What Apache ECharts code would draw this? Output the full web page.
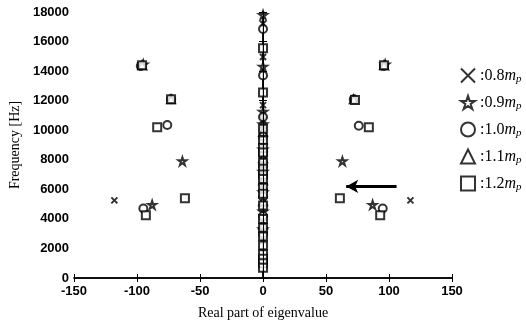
<!DOCTYPE html>
<html><head><meta charset="utf-8">
<script src="https://cdn.jsdelivr.net/npm/echarts@6/dist/echarts.min.js"></script>
<style>html,body{margin:0;padding:0;background:#fff}#c{width:526px;height:325px}</style>
</head><body><div id="c"></div>
<script>
// Data: [real part, frequency Hz]
const xTicks = [-150, -100, -50, 0, 50, 100, 150];
const yTicks = [0, 2000, 4000, 6000, 8000, 10000, 12000, 14000, 16000, 18000];
const legendLabels = ['0.8', '0.9', '1.0', '1.1', '1.2'];
const mp08 = [[-118,5250],[117,5250],[-96,14400],[96,14400],[0,17200],[0,14950],[0,11700],[0,10700],[0,9000],[0,7600],[0,6300],[0,5000],[0,3800],[0,2500]];
const mp09 = [[-64,7900],[63,7900],[-88,4950],[87,4950],[-95,14450],[97,14450],[0,17800],[0,14300],[0,11250],[0,10400],[0,8700],[0,7200],[0,5800],[0,4500],[0,3300]];
const mp10 = [[-95,4700],[95,4700],[-76,10350],[76,10300],[-97,14350],[96,14350],[-73,12100],[72,12100],[0,16850],[0,13700],[0,10900],[0,9600],[0,8300],[0,6900],[0,5500],[0,4200],[0,3000]];
const mp11 = [[-73,12100],[72,12100],[-96,14400],[96,14400],[0,9900],[0,8100],[0,6600],[0,5200],[0,3600]];
const mp12 = [[-62,5400],[61,5400],[-93,4250],[93,4250],[-84,10200],[84,10200],[-73,12100],[73,12050],[-96,14400],[96,14400],[0,15550],[0,12550],[0,10100],[0,9300],[0,8800],[0,8500],[0,7800],[0,7400],[0,7000],[0,6700],[0,6100],[0,5700],[0,4900],[0,4000],[0,3400],[0,2800],[0,2200],[0,1600],[0,1300],[0,1000],[0,700]];
const arrowFrom = [106, 6200];
const arrowTo = [66, 6200];

const X_PATH = 'path://M0,0L10,10M10,0L0,10';
const STAR_PATH = 'path://M5,0L6.2,3.6L10,3.6L6.9,5.8L8.1,9.5L5,7.2L1.9,9.5L3.1,5.8L0,3.6L3.8,3.6Z';
const symbols = [X_PATH, STAR_PATH, 'circle', 'triangle', 'rect'];
const sizes = [6, 8, 8, 8, 8];
const datas = [mp08, mp09, mp10, mp11, mp12];

const chart = echarts.init(document.getElementById('c'));
const series = datas.map((d, i) => ({
  name: legendLabels[i],
  type: 'scatter',
  data: d,
  symbol: symbols[i],
  symbolSize: sizes[i],
  itemStyle: { color: '#fff', borderColor: '#000', borderWidth: 2 },
  z: 3
}));
series[4].markLine = {
  silent: true, animation: false,
  symbol: ['none', 'none'],
  label: { show: false },
  lineStyle: { color: '#000', type: 'solid', width: 1 },
  data: [{ xAxis: 0 }]
};
series[0].markLine = {
  silent: true, animation: false,
  symbol: ['none', 'arrow'], symbolSize: [10, 12],
  label: { show: false },
  lineStyle: { color: '#000', type: 'solid', width: 3 },
  data: [[{ coord: arrowFrom }, { coord: arrowTo }]]
};

const tickFont = { color: '#000', fontFamily: 'Liberation Sans', fontWeight: 'bold', fontSize: 13 };
chart.setOption({
  animation: false,
  grid: { left: 67, right: 74, top: 12, bottom: 45 },
  legend: {
    orient: 'vertical', left: 455, top: 61, itemGap: 8,
    itemWidth: 14, itemHeight: 14,
    data: legendLabels,
    formatter: n => '{n|:' + n + '}{m|m}{p|p}',
    textStyle: {
      rich: {
        n: { fontFamily: 'Liberation Serif', fontSize: 16, color: '#000', lineHeight: 16 },
        m: { fontFamily: 'Liberation Serif', fontStyle: 'italic', fontSize: 16, color: '#000', lineHeight: 16 },
        p: { fontFamily: 'Liberation Serif', fontStyle: 'italic', fontSize: 11, color: '#000', padding: [8, 0, 0, 0], lineHeight: 12 }
      }
    }
  },
  xAxis: [{
    type: 'value', min: -150, max: 150, interval: 50,
    name: 'Real part of eigenvalue', nameLocation: 'middle', nameGap: 28,
    nameTextStyle: { fontFamily: 'Liberation Serif', fontSize: 14, color: '#000' },
    axisLine: { lineStyle: { color: '#000', width: 1.5 } },
    axisTick: { inside: true, length: 4, lineStyle: { color: '#000' } },
    axisLabel: Object.assign({ margin: 7, formatter: v => xTicks.includes(v) ? String(v) : '' }, tickFont),
    splitLine: { show: false }
  }, {
    type: 'value', min: -150, max: 150, interval: 50, position: 'top',
    axisLine: { lineStyle: { color: '#000', width: 1.5 } },
    axisTick: { inside: true, length: 4, lineStyle: { color: '#000' } },
    axisLabel: { show: false }, splitLine: { show: false }
  }],
  yAxis: [{
    type: 'value', min: 0, max: 18000, interval: 2000,
    name: 'Frequency [Hz]', nameLocation: 'middle', nameGap: 50,
    nameTextStyle: { fontFamily: 'Liberation Serif', fontSize: 14, color: '#000' },
    axisLine: { show: true, lineStyle: { color: '#000', width: 1.5 } },
    axisTick: { show: true, inside: true, length: 4, lineStyle: { color: '#000' } },
    axisLabel: Object.assign({ margin: 5, formatter: v => yTicks.includes(v) ? String(v) : '' }, tickFont),
    splitLine: { show: false }
  }, {
    type: 'value', min: 0, max: 18000, interval: 2000, position: 'right',
    axisLine: { show: true, lineStyle: { color: '#000', width: 1.5 } },
    axisTick: { show: true, inside: true, length: 4, lineStyle: { color: '#000' } },
    axisLabel: { show: false }, splitLine: { show: false }
  }],
  series: series
});
</script></body></html>
